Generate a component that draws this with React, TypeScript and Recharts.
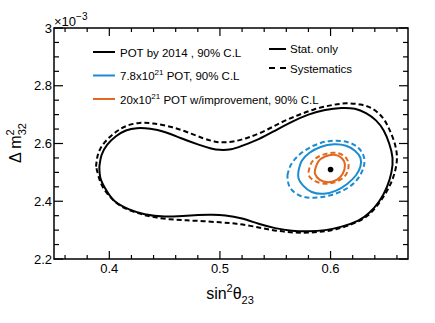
import React from "react";
import {
	ComposedChart,
	Line,
	ReferenceArea,
	Scatter,
	XAxis,
	YAxis,
} from "recharts";

// contour points: sin^2(theta23), dm^2_32 (x1e-3)
const potSolid = [
	{ x: 0.391, y: 2.52 }, { x: 0.393, y: 2.56 }, { x: 0.398, y: 2.595 },
	{ x: 0.406, y: 2.625 }, { x: 0.415, y: 2.645 }, { x: 0.425, y: 2.653 },
	{ x: 0.437, y: 2.651 }, { x: 0.45, y: 2.64 }, { x: 0.465, y: 2.618 },
	{ x: 0.48, y: 2.597 }, { x: 0.492, y: 2.583 }, { x: 0.5, y: 2.578 },
	{ x: 0.51, y: 2.58 }, { x: 0.52, y: 2.592 }, { x: 0.535, y: 2.615 },
	{ x: 0.55, y: 2.645 }, { x: 0.565, y: 2.675 }, { x: 0.58, y: 2.7 },
	{ x: 0.595, y: 2.716 }, { x: 0.61, y: 2.723 }, { x: 0.622, y: 2.72 },
	{ x: 0.632, y: 2.705 }, { x: 0.641, y: 2.68 }, { x: 0.648, y: 2.645 },
	{ x: 0.653, y: 2.6 }, { x: 0.656, y: 2.55 }, { x: 0.655, y: 2.5 },
	{ x: 0.651, y: 2.45 }, { x: 0.644, y: 2.4 }, { x: 0.635, y: 2.36 },
	{ x: 0.625, y: 2.333 }, { x: 0.61, y: 2.312 }, { x: 0.595, y: 2.3 },
	{ x: 0.58, y: 2.296 }, { x: 0.565, y: 2.298 }, { x: 0.55, y: 2.307 },
	{ x: 0.535, y: 2.322 }, { x: 0.52, y: 2.34 }, { x: 0.505, y: 2.351 },
	{ x: 0.49, y: 2.353 }, { x: 0.47, y: 2.35 }, { x: 0.45, y: 2.347 },
	{ x: 0.432, y: 2.355 }, { x: 0.418, y: 2.372 }, { x: 0.405, y: 2.4 },
	{ x: 0.397, y: 2.44 }, { x: 0.392, y: 2.48 }, { x: 0.391, y: 2.52 },
];

const potSyst = [
	{ x: 0.388, y: 2.52 }, { x: 0.39, y: 2.565 }, { x: 0.396, y: 2.605 },
	{ x: 0.405, y: 2.637 }, { x: 0.415, y: 2.66 }, { x: 0.427, y: 2.671 },
	{ x: 0.44, y: 2.669 }, { x: 0.455, y: 2.658 }, { x: 0.47, y: 2.64 },
	{ x: 0.485, y: 2.618 }, { x: 0.495, y: 2.607 }, { x: 0.502, y: 2.604 },
	{ x: 0.512, y: 2.607 }, { x: 0.525, y: 2.62 }, { x: 0.54, y: 2.643 },
	{ x: 0.555, y: 2.672 }, { x: 0.57, y: 2.697 }, { x: 0.585, y: 2.718 },
	{ x: 0.6, y: 2.732 }, { x: 0.614, y: 2.739 }, { x: 0.627, y: 2.735 },
	{ x: 0.638, y: 2.72 }, { x: 0.647, y: 2.69 }, { x: 0.653, y: 2.65 },
	{ x: 0.658, y: 2.6 }, { x: 0.66, y: 2.55 }, { x: 0.658, y: 2.5 },
	{ x: 0.653, y: 2.45 }, { x: 0.645, y: 2.4 }, { x: 0.635, y: 2.355 },
	{ x: 0.622, y: 2.325 }, { x: 0.605, y: 2.303 }, { x: 0.59, y: 2.294 },
	{ x: 0.575, y: 2.291 }, { x: 0.56, y: 2.294 }, { x: 0.545, y: 2.302 },
	{ x: 0.53, y: 2.313 }, { x: 0.515, y: 2.322 }, { x: 0.5, y: 2.327 },
	{ x: 0.48, y: 2.332 }, { x: 0.46, y: 2.336 }, { x: 0.44, y: 2.345 },
	{ x: 0.425, y: 2.36 }, { x: 0.412, y: 2.38 }, { x: 0.402, y: 2.41 },
	{ x: 0.394, y: 2.45 }, { x: 0.39, y: 2.49 }, { x: 0.388, y: 2.52 },
];

const blueSolid = [
	{ x: 0.571, y: 2.505 }, { x: 0.574, y: 2.54 }, { x: 0.581, y: 2.568 },
	{ x: 0.591, y: 2.588 }, { x: 0.603, y: 2.597 }, { x: 0.614, y: 2.592 },
	{ x: 0.622, y: 2.575 }, { x: 0.627, y: 2.55 }, { x: 0.627, y: 2.52 },
	{ x: 0.623, y: 2.49 }, { x: 0.615, y: 2.46 }, { x: 0.605, y: 2.437 },
	{ x: 0.594, y: 2.426 }, { x: 0.583, y: 2.432 }, { x: 0.575, y: 2.455 },
	{ x: 0.571, y: 2.48 }, { x: 0.571, y: 2.505 },
];

const blueSyst = [
	{ x: 0.561, y: 2.49 }, { x: 0.564, y: 2.525 }, { x: 0.572, y: 2.562 },
	{ x: 0.585, y: 2.593 }, { x: 0.6, y: 2.609 }, { x: 0.615, y: 2.605 },
	{ x: 0.625, y: 2.585 }, { x: 0.63, y: 2.555 }, { x: 0.63, y: 2.52 },
	{ x: 0.625, y: 2.48 }, { x: 0.615, y: 2.445 }, { x: 0.6, y: 2.421 },
	{ x: 0.585, y: 2.412 }, { x: 0.572, y: 2.42 }, { x: 0.563, y: 2.45 },
	{ x: 0.561, y: 2.49 },
];

const orangeSolid = [
	{ x: 0.586, y: 2.51 }, { x: 0.589, y: 2.538 }, { x: 0.595, y: 2.555 },
	{ x: 0.603, y: 2.561 }, { x: 0.61, y: 2.55 }, { x: 0.613, y: 2.525 },
	{ x: 0.611, y: 2.495 }, { x: 0.606, y: 2.475 }, { x: 0.598, y: 2.466 },
	{ x: 0.59, y: 2.475 }, { x: 0.586, y: 2.495 }, { x: 0.586, y: 2.51 },
];

const orangeSyst = [
	{ x: 0.58, y: 2.5 }, { x: 0.583, y: 2.535 }, { x: 0.591, y: 2.558 },
	{ x: 0.602, y: 2.568 }, { x: 0.611, y: 2.56 }, { x: 0.616, y: 2.535 },
	{ x: 0.615, y: 2.5 }, { x: 0.609, y: 2.475 }, { x: 0.598, y: 2.461 },
	{ x: 0.587, y: 2.468 }, { x: 0.581, y: 2.485 }, { x: 0.58, y: 2.5 },
];

const bestFit = [{ x: 0.6, y: 2.51 }];

const xMajor = [0.4, 0.5, 0.6];
const xMinor = [0.36, 0.38, 0.42, 0.44, 0.46, 0.48, 0.52, 0.54, 0.56, 0.58, 0.62, 0.64, 0.66];
const yMajor = [2.2, 2.4, 2.6, 2.8, 3];
const yMinor = [2.25, 2.3, 2.35, 2.45, 2.5, 2.55, 2.65, 2.7, 2.75, 2.85, 2.9, 2.95];
const yLabels = ["2.2", "2.4", "2.6", "2.8", "3"];
const xLabels = ["0.4", "0.5", "0.6"];

const BLUE = "#1b8ccf";
const ORANGE = "#e2681e";
const FONT = "'Liberation Sans', Arial, Helvetica, sans-serif";

const W = 435;
const H = 323;
const PLOT_TOP = 28;
const PLOT_RIGHT = 408;

const XTick = ({ x, y, payload }: any) => {
	const i = xMajor.indexOf(payload.value);
	const len = i >= 0 ? 8 : 4;
	return (
		<g>
			<line x1={x} x2={x} y1={y} y2={y - len} stroke="#000" strokeWidth={1.2} />
			<line x1={x} x2={x} y1={PLOT_TOP} y2={PLOT_TOP + len} stroke="#000" strokeWidth={1.2} />
			{i >= 0 && (
				<text x={x} y={y + 14} textAnchor="middle" fontSize={13} fontFamily={FONT} fill="#000">
					{xLabels[i]}
				</text>
			)}
		</g>
	);
};

const YTick = ({ x, y, payload }: any) => {
	const i = yMajor.indexOf(payload.value);
	const len = i >= 0 ? 9 : 5;
	return (
		<g>
			<line x1={x} x2={x + len} y1={y} y2={y} stroke="#000" strokeWidth={1.2} />
			<line x1={PLOT_RIGHT} x2={PLOT_RIGHT - len} y1={y} y2={y} stroke="#000" strokeWidth={1.2} />
			{i >= 0 && (
				<text x={x - 2} y={y + 4.5} textAnchor="end" fontSize={13} fontFamily={FONT} fill="#000">
					{yLabels[i]}
				</text>
			)}
		</g>
	);
};

const contour = (data: { x: number; y: number }[], color: string, dashed: boolean, key: string) => (
	<Line
		key={key}
		data={data}
		dataKey="y"
		type="natural"
		stroke={color}
		strokeWidth={2}
		strokeDasharray={dashed ? "5 3" : undefined}
		dot={false}
		activeDot={false}
		isAnimationActive={false}
	/>
);

const Dot = ({ cx, cy }: any) => <circle cx={cx} cy={cy} r={2.8} fill="#000" />;

const Overlay = () => (
	<svg
		width={W}
		height={H}
		style={{ position: "absolute", left: 0, top: 0, pointerEvents: "none" }}
		fontFamily={FONT}
	>
		{/* exponent */}
		<text x={54} y={26} fontSize={13}>
			×10<tspan dy={-6} fontSize={10}>−3</tspan>
		</text>

		{/* legend, left column */}
		<line x1={93} x2={115} y1={52} y2={52} stroke="#000" strokeWidth={2} />
		<text x={120} y={56.5} fontSize={11.5}>POT by 2014 , 90% C.L</text>
		<line x1={93} x2={115} y1={75.5} y2={75.5} stroke={BLUE} strokeWidth={2} />
		<text x={120} y={80} fontSize={11.5}>
			7.8x10<tspan dy={-5} fontSize={8}>21</tspan>
			<tspan dy={5}> POT, 90% C.L</tspan>
		</text>
		<line x1={93} x2={115} y1={99} y2={99} stroke={ORANGE} strokeWidth={2} />
		<text x={120} y={103.5} fontSize={11.5}>
			20x10<tspan dy={-5} fontSize={8}>21</tspan>
			<tspan dy={5}> POT w/improvement, 90% C.L</tspan>
		</text>

		{/* legend, right column */}
		<line x1={269} x2={286} y1={49} y2={49} stroke="#000" strokeWidth={2} />
		<text x={290} y={53} fontSize={11.5}>Stat. only</text>
		<line x1={269} x2={286} y1={68} y2={68} stroke="#000" strokeWidth={2} strokeDasharray="6 5" />
		<text x={290} y={72.5} fontSize={11.5}>Systematics</text>

		{/* axis titles */}
		<text x={230} y={299} fontSize={16} textAnchor="middle">
			sin<tspan dy={-7} fontSize={11}>2</tspan>
			<tspan dy={7}>θ</tspan>
			<tspan dy={5} fontSize={11}>23</tspan>
		</text>
		<text
			x={0}
			y={0}
			fontSize={16}
			textAnchor="middle"
			transform="translate(21,143) rotate(-90)"
		>
			Δ m<tspan dy={-7} fontSize={11}>2</tspan>
			<tspan dx={-6} dy={12} fontSize={11}>32</tspan>
		</text>
	</svg>
);

export default function App() {
	return (
		<div style={{ position: "absolute", left: 0, top: 0, width: W, height: H, background: "#fff" }}>
			<ComposedChart
				width={W}
				height={H}
				margin={{ top: PLOT_TOP, right: W - PLOT_RIGHT, bottom: 0, left: 0 }}
			>
				<XAxis
					type="number"
					dataKey="x"
					domain={[0.35, 0.67]}
					allowDataOverflow
					ticks={[...xMajor, ...xMinor].sort((a, b) => a - b)}
					interval={0}
					tick={<XTick />}
					tickLine={false}
					tickSize={0}
					tickMargin={0}
					axisLine={false}
					height={64}
				/>
				<YAxis
					type="number"
					dataKey="y"
					domain={[2.2, 3]}
					allowDataOverflow
					ticks={[...yMajor, ...yMinor].sort((a, b) => a - b)}
					interval={0}
					tick={<YTick />}
					tickLine={false}
					tickSize={0}
					tickMargin={0}
					axisLine={false}
					width={54}
				/>
				<ReferenceArea
					x1={0.35}
					x2={0.67}
					y1={2.2}
					y2={3}
					fill="none"
					stroke="#000"
					strokeWidth={1.5}
					fillOpacity={0}
				/>
				{contour(potSyst, "#000", true, "ps")}
				{contour(potSolid, "#000", false, "pp")}
				{contour(blueSyst, BLUE, true, "bs")}
				{contour(blueSolid, BLUE, false, "bp")}
				{contour(orangeSyst, ORANGE, true, "os")}
				{contour(orangeSolid, ORANGE, false, "op")}
				<Scatter data={bestFit} dataKey="y" fill="#000" shape={<Dot />} isAnimationActive={false} />
			</ComposedChart>
			<Overlay />
		</div>
	);
}
